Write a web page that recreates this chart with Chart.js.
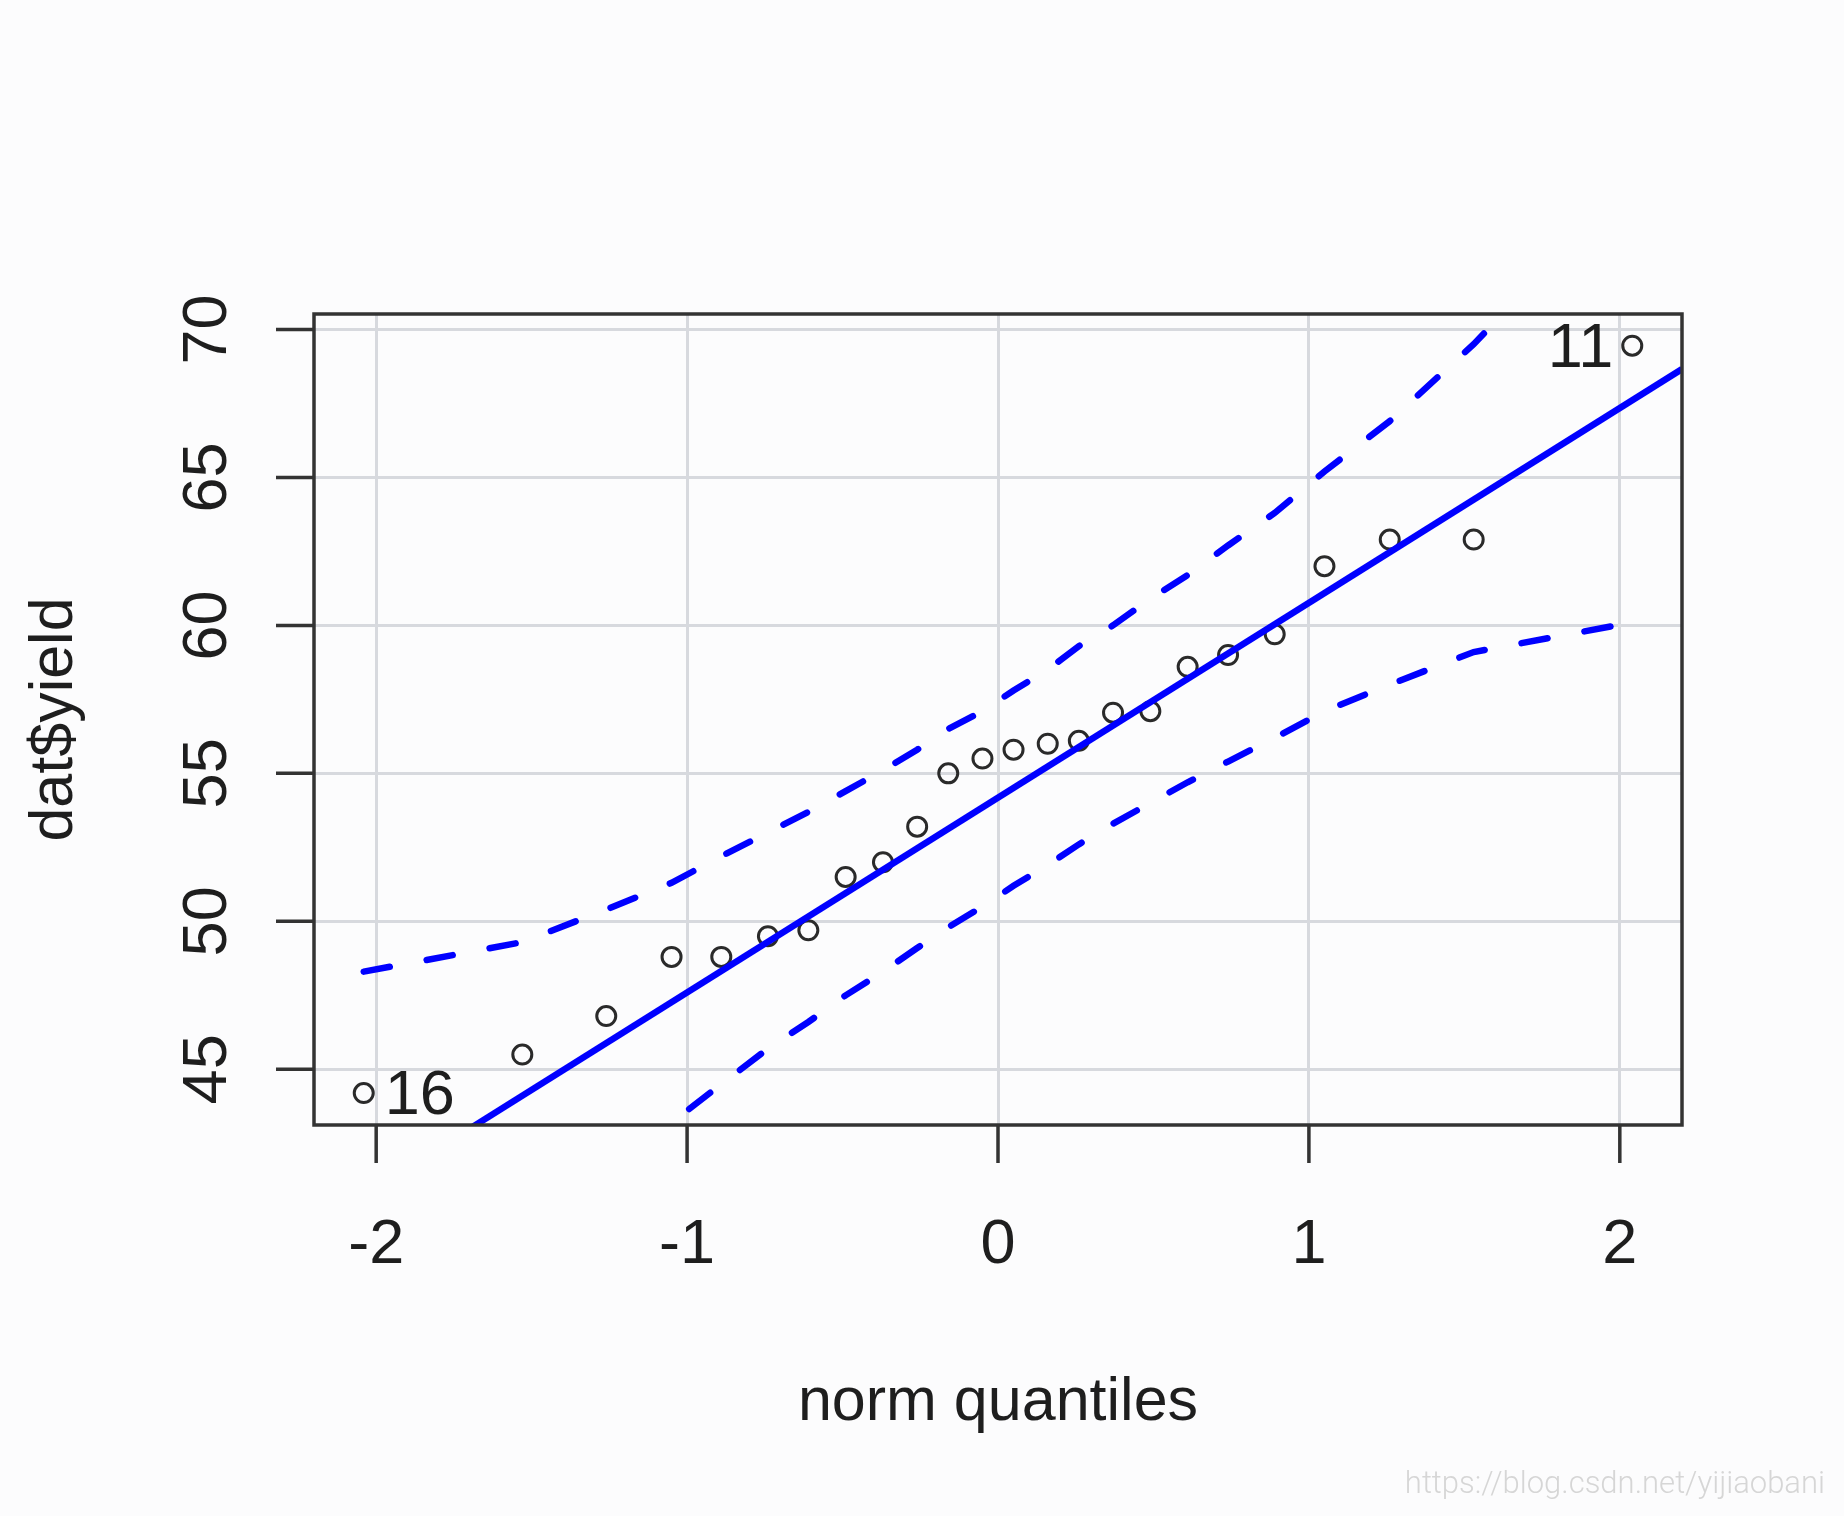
<!DOCTYPE html>
<html>
<head>
<meta charset="utf-8">
<script src="https://cdn.jsdelivr.net/npm/chart.js@4.4.1/dist/chart.umd.min.js"></script>
<style>
    html, body { margin: 0; padding: 0; background: #fcfcfd; }
    canvas { display: block; }
</style>
</head>
<body>
<canvas id="qqChart" width="1844" height="1516"></canvas>
<script>
// theoretical normal quantiles (x) and sorted sample values (y)
const normQuantiles = [-2.04, -1.53, -1.26, -1.05, -0.89, -0.74, -0.61, -0.49, -0.37, -0.26, -0.16, -0.05,
    0.05, 0.16, 0.26, 0.37, 0.49, 0.61, 0.74, 0.89, 1.05, 1.26, 1.53, 2.04];
const yieldValues = [44.2, 45.5, 46.8, 48.8, 48.8, 49.5, 49.7, 51.5, 52.0, 53.2, 55.0, 55.5,
    55.8, 56.0, 56.1, 57.05, 57.1, 58.6, 59.0, 59.7, 62.0, 62.9, 62.9, 69.45];
// confidence envelope
const upperEnvelope = [48.3, 49.3, 50.4, 51.3, 52.2, 53.0, 53.7, 54.4, 55.1, 55.8, 56.5, 57.1,
    57.8, 58.5, 59.3, 60.0, 60.9, 61.7, 62.7, 63.8, 65.2, 66.9, 69.5, 75.1];
const lowerEnvelope = [33.3, 38.9, 41.5, 43.2, 44.5, 45.7, 46.6, 47.5, 48.3, 49.1, 49.8, 50.5,
    51.2, 51.9, 52.6, 53.3, 54.0, 54.7, 55.4, 56.2, 57.1, 58.0, 59.1, 60.1];
// reference line end points
const fitLineX = [-2.2, 2.2];
const fitLineY = [39.7, 68.66];

const xTicks = [-2, -1, 0, 1, 2];
const xTickLabels = ['-2', '-1', '0', '1', '2'];
const yTicks = [45, 50, 55, 60, 65, 70];
const yTickLabels = ['45', '50', '55', '60', '65', '70'];
const xRange = [-2.2, 2.2];
const yRange = [43.12, 70.52];

const pointLabelIndex = [0, 23];
const pointLabelText = ['16', '11'];
const xTitle = 'norm quantiles';
const yTitle = 'dat$yield';
const watermark = 'https://blog.csdn.net/yijiaobani';

const FONT = '63px "Liberation Sans", Arial, sans-serif';
const TITLE_FONT = '61px "Liberation Sans", Arial, sans-serif';
const INK = '#1e1e1e';

const toXY = (xs, ys) => xs.map((v, i) => ({x: v, y: ys[i]}));

// R style box, ticks, labels
const rAxes = {
    id: 'rAxes',
    afterDraw(chart) {
        const ctx = chart.ctx;
        const a = chart.chartArea;
        const x = chart.scales.x, y = chart.scales.y;
        ctx.save();

        ctx.strokeStyle = '#333';
        ctx.lineWidth = 3.5;
        ctx.strokeRect(a.left, a.top, a.right - a.left, a.bottom - a.top);

        ctx.beginPath();
        xTicks.forEach(v => {
            const px = x.getPixelForValue(v);
            ctx.moveTo(px, a.bottom);
            ctx.lineTo(px, a.bottom + 38);
        });
        yTicks.forEach(v => {
            const py = y.getPixelForValue(v);
            ctx.moveTo(a.left, py);
            ctx.lineTo(a.left - 38, py);
        });
        ctx.stroke();

        ctx.fillStyle = INK;
        ctx.font = FONT;
        ctx.textBaseline = 'alphabetic';
        ctx.textAlign = 'center';
        xTicks.forEach((v, i) => ctx.fillText(xTickLabels[i], x.getPixelForValue(v), a.bottom + 138));

        yTicks.forEach((v, i) => {
            ctx.save();
            ctx.translate(a.left - 88, y.getPixelForValue(v));
            ctx.rotate(-Math.PI / 2);
            ctx.fillText(yTickLabels[i], 0, 0);
            ctx.restore();
        });

        ctx.font = TITLE_FONT;
        ctx.fillText(xTitle, (a.left + a.right) / 2, a.bottom + 295);
        ctx.save();
        ctx.translate(a.left - 242, (a.top + a.bottom) / 2);
        ctx.rotate(-Math.PI / 2);
        ctx.fillText(yTitle, 0, 0);
        ctx.restore();

        // labels of the extreme points
        ctx.font = FONT;
        pointLabelIndex.forEach((idx, i) => {
            const px = x.getPixelForValue(normQuantiles[idx]);
            const py = y.getPixelForValue(yieldValues[idx]);
            const right = normQuantiles[idx] < 0;
            ctx.textAlign = right ? 'left' : 'right';
            ctx.fillText(pointLabelText[i], right ? px + 21 : px - 19, py + 21);
        });

        ctx.font = '300 31px Roboto, "Liberation Sans", sans-serif';
        ctx.fillStyle = '#d6d6d6';
        ctx.textAlign = 'right';
        ctx.fillText(watermark, 1825, 1493);

        ctx.restore();
    }
};

const lineStyle = {
    showLine: true,
    pointRadius: 0,
    borderColor: '#0000ff',
    borderWidth: 6.5,
    fill: false,
    clip: 0
};

new Chart(document.getElementById('qqChart'), {
    type: 'scatter',
    data: {
        datasets: [
            Object.assign({label: 'fit', data: toXY(fitLineX, fitLineY)}, lineStyle),
            Object.assign({label: 'upper', data: toXY(normQuantiles, upperEnvelope),
                borderDash: [26.5, 37.5], borderCapStyle: 'round'}, lineStyle),
            Object.assign({label: 'lower', data: toXY(normQuantiles, lowerEnvelope),
                borderDash: [26.5, 37.5], borderCapStyle: 'round'}, lineStyle),
            {
                label: 'yield',
                data: toXY(normQuantiles, yieldValues),
                pointRadius: 9.5,
                pointBorderWidth: 3,
                pointBorderColor: '#2a2a2a',
                pointBackgroundColor: 'rgba(0,0,0,0)'
            }
        ]
    },
    options: {
        responsive: false,
        animation: false,
        events: [],
        layout: {padding: {left: 314, right: 162, top: 314, bottom: 391}},
        plugins: {legend: {display: false}, tooltip: {enabled: false}},
        scales: {
            x: {
                type: 'linear',
                min: xRange[0],
                max: xRange[1],
                afterBuildTicks: s => { s.ticks = xTicks.map(v => ({value: v})); },
                ticks: {display: false},
                grid: {color: '#d7d9de', lineWidth: 3, drawTicks: false},
                border: {display: false}
            },
            y: {
                type: 'linear',
                min: yRange[0],
                max: yRange[1],
                afterBuildTicks: s => { s.ticks = yTicks.map(v => ({value: v})); },
                ticks: {display: false},
                grid: {color: '#d7d9de', lineWidth: 3, drawTicks: false},
                border: {display: false}
            }
        }
    },
    plugins: [rAxes]
});
</script>
</body>
</html>
